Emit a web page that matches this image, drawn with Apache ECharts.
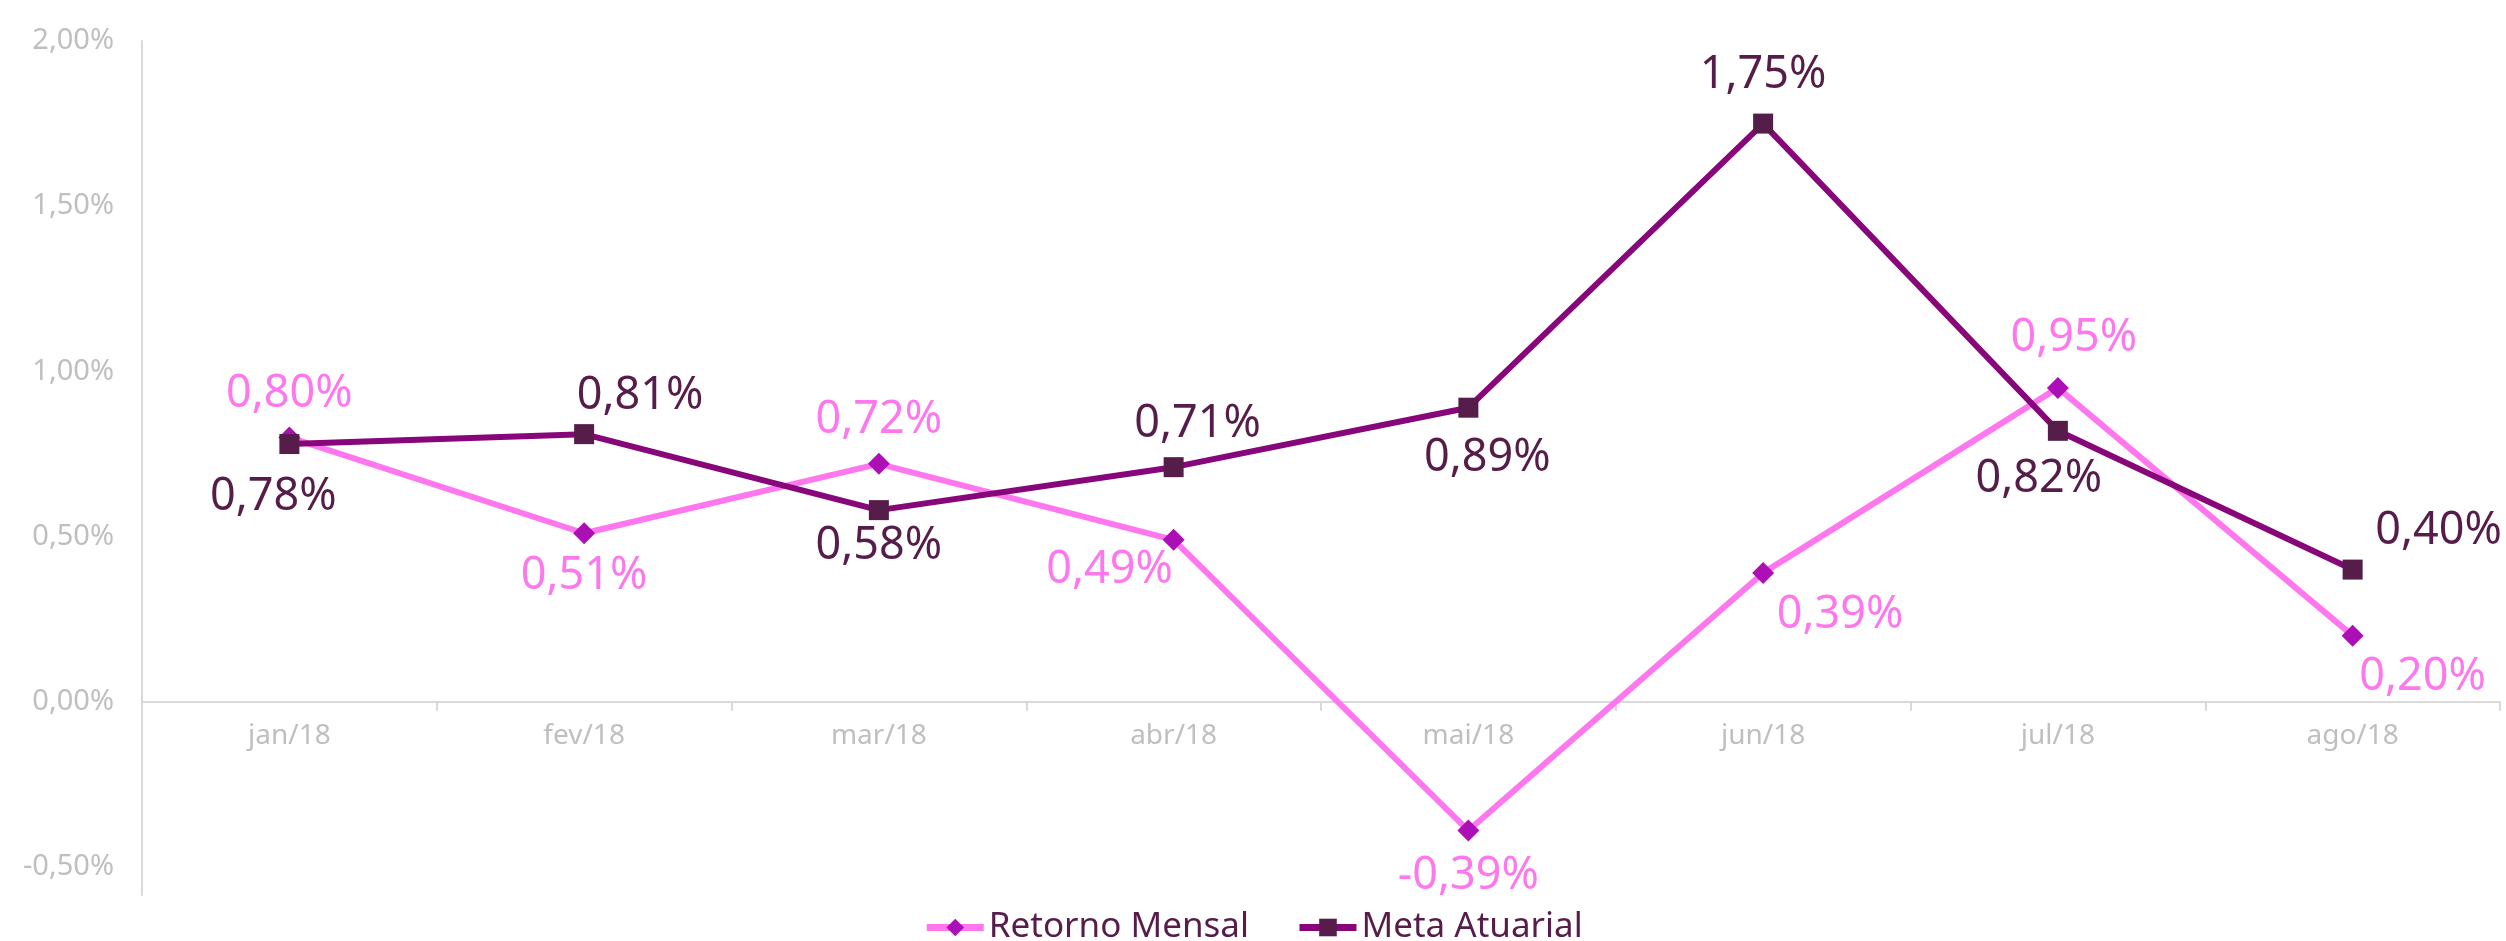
<!DOCTYPE html>
<html>
<head>
<meta charset="utf-8">
<script src="https://cdn.jsdelivr.net/npm/echarts@6/dist/echarts.min.js"></script>
<style>
  html, body { margin: 0; padding: 0; background: #fff; }
  #chart { width: 2506px; height: 941px; }
</style>
</head>
<body>
<div id="chart"></div>
<script>
// dados do gráfico
const meses = ['jan/18', 'fev/18', 'mar/18', 'abr/18', 'mai/18', 'jun/18', 'jul/18', 'ago/18'];
const retornoMensal = [0.80, 0.51, 0.72, 0.49, -0.39, 0.39, 0.95, 0.20];
const metaAtuarial = [0.78, 0.81, 0.58, 0.71, 0.89, 1.75, 0.82, 0.40];
const yTicks = [-0.5, 0, 0.5, 1, 1.5, 2];
const yMin = -0.585;
const yMax = 2;

// deslocamento dos rótulos em relação a cada ponto
const retornoOffset = [[0, -43], [0, 43], [0, -44], [-64, 30], [0, 46], [77, 42], [16, -50], [70, 42]];
const metaOffset = [[-16, 53], [56, -38], [0, 36], [24, -43], [19, 50], [0, -48], [-19, 48], [86, -38]];

const gridTop = 41, gridBottom = 46, chartHeight = 941;
// eixo X fica na linha do zero
const zeroOffset = (chartHeight - gridTop - gridBottom) * (0 - yMin) / (yMax - yMin);

function pct(v) {
    return v.toFixed(2).replace('.', ',') + '%';
}

function withLabels(values, offsets) {
    return values.map(function (v, i) {
        return { value: v, label: { offset: offsets[i] } };
    });
}

var myChart = echarts.init(document.getElementById('chart'));

var option = {
    backgroundColor: '#fff',
    textStyle: { fontFamily: 'Noto Sans' },
    grid: { left: 142, right: 6, top: gridTop, bottom: gridBottom },
    legend: {
        top: 905,
        left: 'center',
        itemWidth: 57,
        itemHeight: 22,
        itemGap: 47,
        textStyle: { fontSize: 35, color: '#561d4a', fontFamily: 'Noto Sans' },
        data: [
            { name: 'Retorno Mensal', lineStyle: { width: 7 } },
            { name: 'Meta Atuarial', lineStyle: { width: 7 } }
        ]
    },
    xAxis: {
        type: 'category',
        data: meses,
        offset: -zeroOffset,
        axisLine: { onZero: false, lineStyle: { color: '#d9d9d9', width: 2 } },
        axisTick: { show: true, length: 9, lineStyle: { color: '#d9d9d9', width: 2 } },
        axisLabel: { color: '#bfbfbf', fontSize: 28, margin: 20 },
        splitLine: { show: false }
    },
    yAxis: {
        type: 'value',
        min: yMin,
        max: yMax,
        axisLine: { show: true, lineStyle: { color: '#d9d9d9', width: 2 } },
        axisTick: { show: false },
        splitLine: { show: false },
        axisLabel: {
            customValues: yTicks,
            color: '#bfbfbf',
            fontSize: 29,
            margin: 28,
            formatter: pct
        }
    },
    series: [
        {
            name: 'Retorno Mensal',
            type: 'line',
            data: withLabels(retornoMensal, retornoOffset),
            symbol: 'diamond',
            symbolSize: 22,
            lineStyle: { color: '#ff77ee', width: 6 },
            itemStyle: { color: '#ac0fb5' },
            label: {
                show: true,
                position: 'inside',
                color: '#ff77ee',
                fontSize: 45,
                formatter: function (p) { return pct(p.value); }
            },
            z: 2
        },
        {
            name: 'Meta Atuarial',
            type: 'line',
            data: withLabels(metaAtuarial, metaOffset),
            symbol: 'rect',
            symbolSize: 20,
            lineStyle: { color: '#870679', width: 6 },
            itemStyle: { color: '#561d4a' },
            label: {
                show: true,
                position: 'inside',
                color: '#561d4a',
                fontSize: 45,
                formatter: function (p) { return pct(p.value); }
            },
            z: 3
        }
    ]
};

myChart.setOption(option);
</script>
</body>
</html>
